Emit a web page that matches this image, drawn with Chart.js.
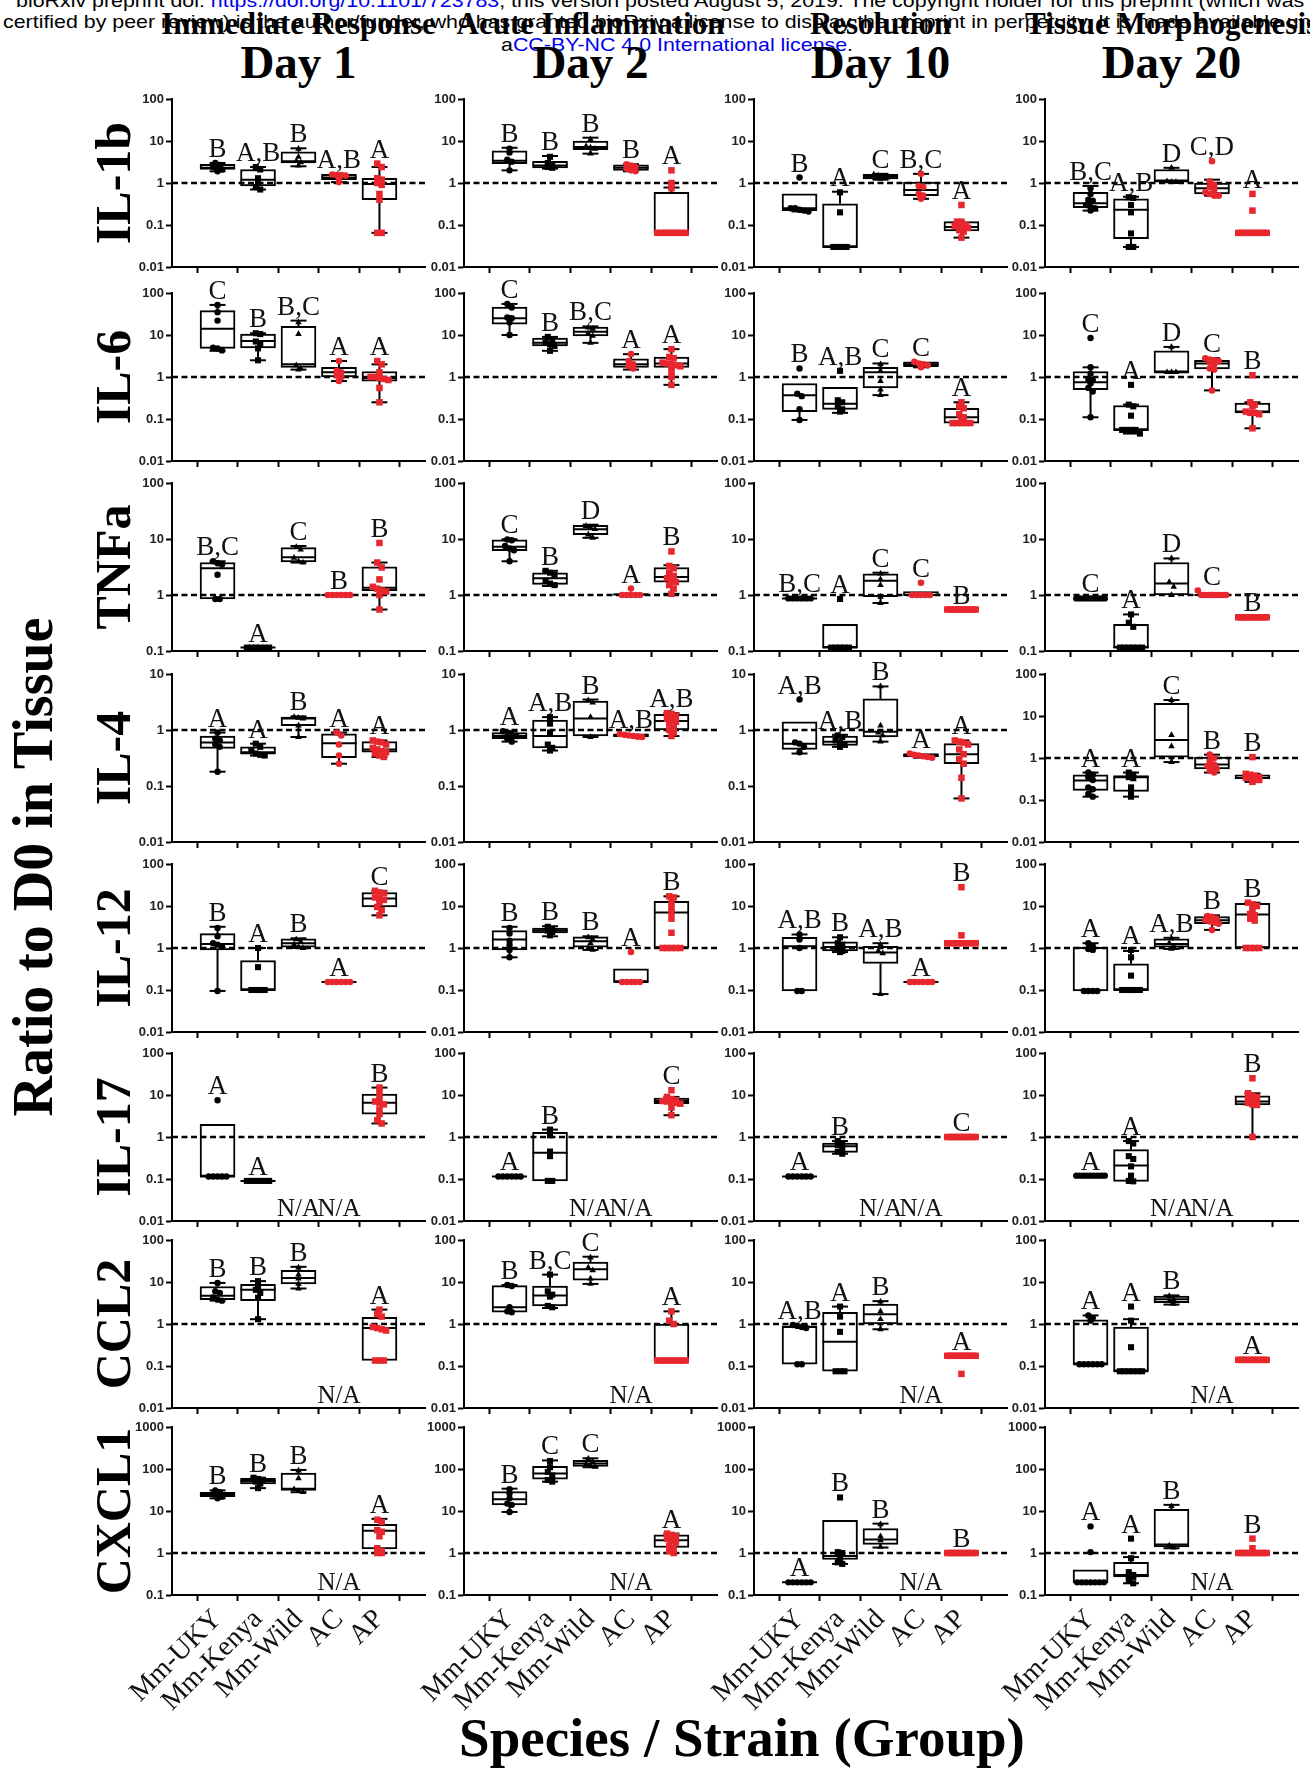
<!DOCTYPE html>
<html>
<head>
<meta charset="utf-8">
<script src="https://cdn.jsdelivr.net/npm/chart.js@4.4.1/dist/chart.umd.min.js"></script>
<style>
  body { margin: 0; background: #fff; }
  #page { position: relative; width: 1310px; height: 1768px; overflow: hidden; background: #fff; }
  #page canvas { position: absolute; }
  .t { position: absolute; white-space: nowrap; line-height: 1; color: #000; }
  .serif { font-family: "Liberation Serif", "Times New Roman", serif; font-weight: bold; }
  .hdr { font-family: "Liberation Sans", Arial, sans-serif; font-size: 19px; transform-origin: 0 0; }
  .lnk { color: #0000ee; }
  .rot { transform: translate(-50%, -50%) rotate(-90deg); }
</style>
</head>
<body>
<div id="page">
  <div class="t hdr" id="h1" style="left:16px;top:-9px">bioRxiv preprint doi: <span class="lnk">https://doi.org/10.1101/723783</span>; this version posted August 5, 2019. The copyright holder for this preprint (which was</div>
  <div class="t hdr" id="h2" style="left:3px;top:12px">certified by peer review) is the author/funder, who has granted bioRxiv a license to display the preprint in perpetuity. It is made available under</div>
  <div class="t hdr" id="h3" style="top:35px">a<span class="lnk">CC-BY-NC 4.0 International license</span>.</div>
</div>
<script>
// categories and labels
const groupNames = ['Mm-UKY', 'Mm-Kenya', 'Mm-Wild', 'AC', 'AP'];
const phases = ['Immediate Response', 'Acute Inflammation', 'Resolution', 'Tissue Morphogenesis'];
const days = ['Day 1', 'Day 2', 'Day 10', 'Day 20'];
const cytokines = ['IL-1b', 'IL-6', 'TNFa', 'IL-4', 'IL-12', 'IL-17', 'CCL2', 'CXCL1'];

// y axis range per row / column
const axisMin = [[0.01,0.01,0.01,0.01],[0.01,0.01,0.01,0.01],[0.1,0.1,0.1,0.1],[0.01,0.01,0.01,0.01],
                 [0.01,0.01,0.01,0.01],[0.01,0.01,0.01,0.01],[0.01,0.01,0.01,0.01],[0.1,0.1,0.1,0.1]];
const axisMax = [[100,100,100,100],[100,100,100,100],[100,100,100,100],[10,10,10,100],
                 [100,100,100,100],[100,100,100,100],[100,100,100,100],[1000,1000,1000,1000]];

// each group: [whisker low, q1, median, q3, whisker high, letter, points]  (null = N/A)
const il1b = [
  [[1.9,2.1,2.3,2.8,3.0,'B',[3.0,2.7,2.4,2.2,2.1,1.9]],
   [0.7,0.85,1.2,2.1,2.4,'A,B',[2.4,2.1,1.3,1.0,0.8,0.7]],
   [2.5,3.0,3.3,5.5,6.7,'B',[6.5,4.2,3.3,3.1,2.6]],
   [1.05,1.2,1.35,1.6,1.6,'A,B',[1.6,1.55,1.5,1.3,1.05,1.55]],
   [0.065,0.4,0.95,1.3,2.4,'A',[2.9,2.4,1.3,1.2,1.0,0.9,0.55,0.4,0.065,0.065]]],
  [[2.0,2.9,3.4,5.8,6.9,'B',[6.6,5.3,3.6,3.2,2.0]],
   [2.2,2.3,2.6,3.3,4.4,'B',[4.2,3.0,2.6,2.4,2.3]],
   [5.0,6.2,7.2,10,12,'B',[11,7.5,7.0,6.5,5.0]],
   [1.9,2.0,2.3,2.7,2.8,'B',[2.8,2.6,2.4,2.2,2.0,1.9]],
   [0.065,0.065,0.065,0.6,0.78,'A',[2.0,1.0,0.75,0.065,0.065,0.065,0.065,0.065,0.065,0.065,0.065]]],
  [[0.21,0.22,0.25,0.55,0.55,'B',[1.35,0.25,0.25,0.23,0.22,0.21]],
   [0.03,0.03,0.03,0.32,0.62,'A',[0.6,0.2,0.03,0.03,0.03,0.03]],
   [1.2,1.25,1.4,1.6,1.65,'C',[1.6,1.5,1.4,1.35,1.25]],
   [0.42,0.5,0.68,1.05,1.65,'B,C',[1.65,0.85,0.8,0.55,0.5,0.42]],
   [0.05,0.072,0.09,0.12,0.12,'A',[0.3,0.12,0.12,0.1,0.095,0.09,0.09,0.085,0.075,0.07,0.05]]],
  [[0.22,0.26,0.33,0.6,0.85,'B,C',[0.75,0.55,0.4,0.38,0.3,0.27,0.25,0.22]],
   [0.03,0.047,0.23,0.42,0.47,'A,B',[0.46,0.44,0.3,0.2,0.063,0.03,0.03]],
   [1.05,1.05,1.15,2.1,2.3,'D',[2.3,1.1,1.05,1.05]],
   [0.5,0.55,0.75,1.0,1.2,'C,D',[3.3,1.1,0.9,0.8,0.7,0.6,0.55,0.5,0.5]],
   [0.065,0.065,0.065,0.065,0.065,'A',[0.55,0.22,0.065,0.065,0.065,0.065,0.065,0.065,0.065,0.065,0.065]]]
];
const il6 = [
  [[4.2,4.8,14,38,52,'C',[52,35,22,5,4.8,4.3]],
   [2.5,4.9,7.2,10.5,11,'B',[11,10.5,7,6,4.8,2.5]],
   [1.5,1.7,2.0,16,22,'B,C',[20,10.5,1.9,1.6,1.5]],
   [0.8,1.0,1.3,1.7,2.4,'A',[2.4,1.4,1.3,1.1,1.0,0.8]],
   [0.25,0.8,0.95,1.35,2.0,'A',[2.4,2.0,1.3,1.0,1.0,0.95,0.9,0.85,0.55,0.25]]],
  [[10,18,25,46,55,'C',[55,45,26,25,20,10]],
   [4.2,5.5,6.5,8.5,9,'B',[9,8,6.5,6,5.5,4.2]],
   [6.5,9.5,12,15.5,16,'B,C',[15,14,11,9.5,6.5]],
   [1.5,1.7,2.0,2.7,3.5,'A',[3.5,2.4,2.0,1.8,1.6]],
   [0.65,1.7,2.1,3.0,4.6,'A',[4.6,3.0,2.8,2.2,2.1,2.0,1.9,1.8,1.7,1.3,1.0,0.65]]],
  [[0.095,0.15,0.37,0.7,0.7,'B',[1.6,0.4,0.35,0.17,0.095]],
   [0.14,0.17,0.23,0.57,0.57,'A,B',[1.4,0.28,0.25,0.2,0.17,0.15]],
   [0.37,0.55,1.3,1.7,2.1,'C',[2.0,1.4,0.8,0.5,0.37]],
   [1.7,1.75,2.0,2.3,2.3,'C',[2.3,2.1,2.0,1.9,1.7]],
   [0.08,0.08,0.11,0.18,0.25,'A',[0.25,0.2,0.18,0.13,0.11,0.1,0.08,0.08,0.08,0.08,0.08]]],
  [[0.11,0.5,0.75,1.35,1.7,'C',[8.5,1.7,1.2,0.9,0.85,0.7,0.55,0.45,0.11]],
   [0.045,0.055,0.055,0.21,0.22,'A',[0.65,0.22,0.2,0.12,0.055,0.055,0.055,0.055,0.045]],
   [1.3,1.3,1.3,4.2,5.2,'D',[5.2,1.3,1.3,1.3]],
   [0.48,1.55,2.1,2.5,2.8,'C',[2.8,2.6,2.5,2.4,2.2,2.0,1.6,1.5,0.48]],
   [0.06,0.14,0.15,0.24,0.25,'B',[1.1,0.25,0.22,0.2,0.15,0.14,0.14,0.13,0.06]]]
];
const tnfa = [
  [[0.85,0.85,3.0,3.8,4.0,'B,C',[4.0,3.7,3.5,2.3,0.85,0.85]],
   [0.115,0.115,0.115,0.115,0.115,'A',[0.115,0.115,0.115,0.115,0.115,0.115]],
   [3.8,3.9,4.7,7.0,7.5,'C',[7.2,6.5,4.6,4.0,3.8]],
   [1,1,1,1,1,'B',[1,1,1,1,1,1]],
   [0.55,1.2,1.35,3.2,3.8,'B',[8.5,3.8,3.1,1.9,1.4,1.3,1.2,1.15,1.0,0.55]]],
  [[4.0,6.2,7.3,9.7,9.9,'C',[9.8,9.5,7.5,6.8,6.3,4.0]],
   [1.45,1.55,2.0,2.5,2.7,'B',[2.7,2.5,2.3,1.8,1.6,1.5]],
   [10.5,12,15,17.5,18,'D',[17,16,15,12,10.5]],
   [1,1,1.02,1.05,1.05,'A',[1.3,1,1,1,1,1]],
   [1.05,1.7,2.1,3.1,3.4,'B',[6,3.3,3.0,2.5,2.2,2.0,1.9,1.7,1.5,1.3,1.05]]],
  [[0.87,0.87,0.87,0.87,0.87,'B,C',[0.87,0.87,0.87,0.87,0.87,0.87]],
   [0.115,0.115,0.115,0.3,0.3,'A',[0.85,0.115,0.115,0.115,0.115,0.115]],
   [0.72,0.93,1.8,2.4,2.5,'C',[2.4,1.9,1.5,0.93,0.72]],
   [1,1,1,1.15,1.15,'C',[1.65,1,1,1,1,1]],
   [0.55,0.55,0.55,0.55,0.55,'B',[0.55,0.55,0.55,0.55,0.55,0.55,0.55,0.55,0.55,0.55,0.55]]],
  [[0.87,0.87,0.87,0.87,0.87,'C',[0.87,0.87,0.87,0.87,0.87,0.87,0.87,0.87,0.87]],
   [0.115,0.115,0.115,0.3,0.45,'A',[0.45,0.32,0.27,0.115,0.115,0.115,0.115,0.115,0.115]],
   [1.0,1.0,1.6,3.8,4.5,'D',[4.5,1.7,1.4,1.0]],
   [1,1,1,1,1,'C',[1.2,1,1,1,1,1,1,1,1]],
   [0.4,0.4,0.4,0.4,0.4,'B',[0.4,0.4,0.4,0.4,0.4,0.4,0.4,0.4,0.4,0.4,0.4]]]
];
const il4 = [
  [[0.18,0.47,0.6,0.78,0.9,'A',[0.9,0.7,0.65,0.55,0.5,0.18]],
   [0.35,0.37,0.4,0.5,0.57,'A',[0.57,0.5,0.42,0.38,0.36,0.35]],
   [0.75,1.2,1.6,1.7,1.75,'B',[1.7,1.65,1.6,1.2,0.75]],
   [0.25,0.32,0.58,0.85,0.9,'A',[0.9,0.8,0.55,0.35,0.25]],
   [0.33,0.4,0.45,0.62,0.65,'A',[0.65,0.62,0.6,0.55,0.48,0.45,0.42,0.4,0.38,0.35,0.33]]],
  [[0.62,0.7,0.78,0.9,0.95,'A',[0.95,0.9,0.82,0.78,0.7,0.62]],
   [0.43,0.48,0.78,1.5,1.7,'A,B',[1.7,1.3,0.9,0.55,0.48,0.43]],
   [0.75,0.78,1.6,3.3,3.5,'B',[3.4,3.1,1.7,0.75]],
   [0.75,0.75,0.8,0.85,0.85,'A,B',[0.85,0.82,0.8,0.78,0.76,0.75]],
   [0.78,1.0,1.45,1.9,2.0,'A,B',[2.0,1.95,1.8,1.6,1.5,1.4,1.3,1.1,1.0,0.9,0.78]]],
  [[0.38,0.45,0.57,1.4,1.4,'A,B',[3.5,0.6,0.57,0.5,0.4]],
   [0.5,0.53,0.62,0.78,0.82,'A,B',[0.8,0.75,0.65,0.6,0.55,0.5]],
   [0.62,0.75,0.93,3.6,6.0,'B',[6.0,1.2,0.9,0.8,0.62]],
   [0.32,0.33,0.35,0.38,0.38,'A',[0.38,0.36,0.35,0.34,0.33,0.32]],
   [0.06,0.25,0.37,0.57,0.65,'A',[0.65,0.62,0.6,0.55,0.45,0.37,0.3,0.25,0.14,0.06]]],
  [[0.12,0.17,0.29,0.4,0.45,'A',[0.45,0.4,0.35,0.3,0.2,0.18,0.14,0.12]],
   [0.12,0.16,0.35,0.38,0.45,'A',[0.45,0.4,0.35,0.33,0.2,0.15,0.12]],
   [0.8,1.05,2.7,20,24,'C',[24,3.5,1.9,0.8]],
   [0.45,0.55,0.7,1.05,1.2,'B',[1.2,1.0,0.85,0.7,0.65,0.6,0.55,0.5,0.45]],
   [0.27,0.32,0.34,0.4,0.42,'B',[1.05,0.42,0.4,0.38,0.35,0.34,0.33,0.32,0.3,0.27]]]
];
const il12 = [
  [[0.095,0.9,1.25,2.2,3.2,'B',[3.0,1.9,1.3,1.2,1.1,0.095]],
   [0.1,0.1,0.1,0.5,1.0,'A',[1.0,0.35,0.1,0.1,0.1,0.1]],
   [1.0,1.05,1.3,1.65,1.7,'B',[1.6,1.4,1.2,1.05,1.0]],
   [0.155,0.155,0.155,0.155,0.155,'A',[0.155,0.155,0.155,0.155,0.155,0.155]],
   [6,9.5,15,21,23,'C',[23,21,20,16,15,14,12,9.5,8,6]]],
  [[0.6,0.9,1.6,2.6,3.2,'B',[3.0,2.2,1.5,1.2,0.9,0.6]],
   [1.9,2.3,2.6,3.0,3.3,'B',[3.2,2.8,2.6,2.4,2.0]],
   [0.9,1.05,1.45,1.85,1.9,'B',[1.8,1.6,1.3,1.0,0.9]],
   [0.155,0.155,0.155,0.32,0.32,'A',[0.8,0.155,0.155,0.155,0.155,0.155]],
   [1.0,1.0,7,13,17,'B',[17,16,12,9,7,5,2.3,1,1,1,1,1]]],
  [[0.095,0.095,1.1,1.8,2.1,'A,B',[2.1,1.6,1.0,0.095,0.095]],
   [0.8,0.85,1.05,1.4,1.8,'B',[1.8,1.3,1.2,1.0,0.85,0.8]],
   [0.08,0.43,0.78,1.1,1.3,'A,B',[1.2,0.85,0.75,0.08]],
   [0.155,0.155,0.155,0.155,0.155,'A',[0.155,0.155,0.155,0.155,0.155,0.155]],
   [1.3,1.3,1.3,1.3,1.3,'B',[28,2.0,1.3,1.3,1.3,1.3,1.3,1.3,1.3,1.3,1.3]]],
  [[0.095,0.095,1.0,1.05,1.3,'A',[1.3,1.1,0.95,0.9,0.095,0.095,0.095,0.095]],
   [0.1,0.1,0.1,0.42,0.85,'A',[0.9,0.6,0.22,0.1,0.1,0.1,0.1,0.1]],
   [0.95,1.05,1.25,1.65,1.75,'A,B',[1.7,1.3,1.1,0.95]],
   [2.7,3.8,4.6,5.6,6,'B',[5.8,5.5,5.0,4.6,4.3,4.0,3.8,2.7]],
   [1.0,1.0,6.3,11.5,12,'B',[12,11,10,8,6.5,6,5,4.5,1,1,1,1]]]
];
const il17 = [
  [[0.115,0.115,0.115,2.0,2.0,'A',[7.5,0.115,0.115,0.115,0.115,0.115]],
   [0.09,0.09,0.09,0.09,0.09,'A',[0.09,0.09,0.09,0.09,0.09,0.09]],
   null, null,
   [2.1,3.5,6.5,10.5,15,'B',[15,12,9,7,6.5,6,4.5,3.5,2.5,2.1]]],
  [[0.115,0.115,0.115,0.115,0.115,'A',[0.115,0.115,0.115,0.115,0.115,0.115]],
   [0.09,0.09,0.42,1.3,1.5,'B',[1.5,1.1,0.45,0.35,0.09,0.09]],
   null, null,
   [3.3,6.2,7.2,8.5,9,'C',[13,9,8,7.5,7.2,7,6.8,6.5,6.2,5,3.3]]],
  [[0.115,0.115,0.115,0.115,0.115,'A',[0.115,0.115,0.115,0.115,0.115,0.115]],
   [0.4,0.43,0.6,0.72,0.8,'B',[0.8,0.7,0.65,0.55,0.45,0.4]],
   null, null,
   [1,1,1,1,1,'C',[1,1,1,1,1,1,1,1,1,1]]],
  [[0.12,0.12,0.12,0.12,0.12,'A',[0.12,0.12,0.12,0.12,0.12,0.12,0.12,0.12,0.12]],
   [0.088,0.088,0.21,0.5,0.8,'A',[0.8,0.7,0.35,0.3,0.2,0.12,0.09,0.088]],
   null, null,
   [1.0,5.8,7,9.5,11,'B',[25,11,9.5,9,8,7.5,7,6.5,6,5.8,1.0]]]
];
const ccl2 = [
  [[3.6,3.8,4.7,7.8,9.5,'B',[9.5,6,5.5,4.3,3.8,3.6]],
   [1.3,3.6,6.5,8.8,10.5,'B',[10.5,8,6.5,5.5,4.2,1.3]],
   [7,9,12.5,19,23,'B',[22,15,12,9,7]],
   null,
   [0.135,0.135,0.8,1.45,2.2,'A',[2.2,1.7,1.5,0.85,0.8,0.75,0.7,0.135,0.135,0.135]]],
  [[1.9,1.9,2.5,8.2,8.5,'B',[8.5,8.0,2.5,2.0,1.9]],
   [2.4,2.7,4.8,8.0,15,'B,C',[15,6,5,4.5,2.7,2.5]],
   [9,11,20,30,40,'C',[38,22,19,12,9]],
   null,
   [0.135,0.135,0.135,1.0,2.0,'A',[2.0,1.2,1.0,0.135,0.135,0.135,0.135,0.135,0.135,0.135,0.135,0.135]]],
  [[0.11,0.11,0.85,0.9,0.95,'A,B',[0.95,0.9,0.85,0.8,0.11,0.11]],
   [0.075,0.075,0.38,1.9,2.6,'A',[2.6,1.5,0.65,0.075,0.075,0.075]],
   [0.75,1.0,1.7,3.0,3.5,'B',[3.4,2.0,1.3,0.75]],
   null,
   [0.175,0.175,0.175,0.175,0.175,'A',[0.175,0.175,0.175,0.175,0.175,0.175,0.175,0.175,0.175,0.175,0.065]]],
  [[0.11,0.11,0.11,1.25,1.6,'A',[1.6,1.4,1.2,0.11,0.11,0.11,0.11,0.11,0.11]],
   [0.075,0.075,0.075,0.85,1.3,'A',[2.6,1.2,0.28,0.075,0.075,0.075,0.075,0.075,0.075]],
   [2.9,3.2,3.9,4.6,4.8,'B',[4.6,3.8,3.5,3.0]],
   null,
   [0.14,0.14,0.14,0.14,0.14,'A',[0.14,0.14,0.14,0.14,0.14,0.14,0.14,0.14,0.14,0.14,0.14]]]
];
const cxcl1 = [
  [[20,22,24,28,31,'B',[31,28,25,24,22,20]],
   [35,44,52,60,62,'B',[62,58,55,50,45,35]],
   [28,31,34,80,95,'B',[92,60,33,30,28]],
   null,
   [1.0,1.25,3.4,4.8,6.5,'A',[6.2,5.5,3.5,3.2,2.5,1.3,1.1,1.0,1.0]]],
  [[9.5,14,19,29,34,'B',[33,26,20,15,14,9.5]],
   [50,57,78,115,160,'C',[155,110,85,70,55,50]],
   [110,115,135,160,180,'C',[175,150,130,120,112]],
   null,
   [1.0,1.35,2.0,2.7,2.9,'A',[2.9,2.7,2.5,2.2,2.0,1.8,1.5,1.3,1.1,1.0]]],
  [[0.2,0.2,0.2,0.2,0.2,'A',[0.2,0.2,0.2,0.2,0.2,0.2]],
   [0.55,0.7,0.85,6,6,'B',[21,1.05,1.0,0.75,0.6,0.55]],
   [1.35,1.6,2.1,3.8,5,'B',[4.8,2.5,2.0,1.4]],
   null,
   [1,1,1,1,1,'B',[1,1,1,1,1,1,1,1,1,1]]],
  [[0.2,0.2,0.2,0.4,0.4,'A',[4.3,1.05,0.2,0.2,0.2,0.2,0.2,0.2,0.2]],
   [0.19,0.27,0.3,0.6,0.8,'A',[2.2,0.75,0.35,0.3,0.28,0.27,0.22,0.19]],
   [1.3,1.4,1.6,11,14,'B',[13,1.5,1.35]],
   null,
   [1,1,1,1,1,'B',[2.2,1.3,1,1,1,1,1,1,1,1,1]]]
];
const rowsData = [il1b, il6, tnfa, il4, il12, il17, ccl2, cxcl1];

// layout
const colX = [172, 464, 754, 1045];          // y-axis line of each column
const rowY = [99, 293, 483, 674, 864, 1053, 1240, 1427]; // top of each plot
const PLOT_W = 253, PLOT_H = 168;
const AX_W = 42, PAD_L = 40, PAD_R = 14, PAD_T = 46, PAD_B = 2;
const RED = '#e8262d';
const SERIF = '"Liberation Serif", "Times New Roman", serif';
const SANS = '"Liberation Sans", Arial, sans-serif';
const markStyle = ['circle', 'rect', 'triangle', 'circle', 'rect'];
const markColor = ['#000', '#000', '#000', RED, RED];
const markRadius = [3.2, 4.3, 3.8, 3.3, 4.6];

const page = document.getElementById('page');

// spread points that sit at (almost) the same height side by side
function spread(vals, gi) {
  const bins = [];
  vals.slice().sort((a, b) => b - a).forEach(v => {
    const lv = Math.log10(v);
    const b = bins.find(b => Math.abs(b.lv - lv) < 0.09);
    if (b) b.vals.push(v); else bins.push({ lv, vals: [v] });
  });
  const out = [];
  bins.forEach(b => {
    const n = b.vals.length;
    const step = n > 1 ? Math.min(0.11, 0.7 / (n - 1)) : 0;
    b.vals.forEach((v, k) => out.push({ x: gi + (k - (n - 1) / 2) * step, y: v }));
  });
  return out;
}

function decades(min, max) {
  const t = [];
  for (let e = Math.round(Math.log10(min)); e <= Math.round(Math.log10(max)); e++) t.push(Math.pow(10, e));
  return t;
}

function makePanel(r, c) {
  const groups = rowsData[r][c];
  const bottom = r === cytokines.length - 1;
  const hx = bottom ? 140 : 8;
  const W = PAD_L + AX_W + PLOT_W + PAD_R;
  const H = PAD_T + PLOT_H + hx + PAD_B;
  const cv = document.createElement('canvas');
  cv.width = W; cv.height = H;
  cv.style.left = (colX[c] - PAD_L - AX_W) + 'px';
  cv.style.top = (rowY[r] - PAD_T) + 'px';
  page.appendChild(cv);

  const boxes = {
    id: 'boxes' + r + c,
    afterDatasetDraw(chart, args) {
      if (args.index !== 0) return;
      const { ctx, chartArea, scales: { x, y } } = chart;
      ctx.save();
      // reference line at ratio 1
      ctx.strokeStyle = '#000';
      ctx.lineWidth = 2.5;
      ctx.setLineDash([6, 3.5]);
      const y1 = y.getPixelForValue(1);
      ctx.beginPath(); ctx.moveTo(chartArea.left, y1); ctx.lineTo(chartArea.right + 2, y1); ctx.stroke();
      ctx.setLineDash([]);
      ctx.lineWidth = 2;
      groups.forEach((g, i) => {
        if (!g) return;
        const cx = x.getPixelForValue(i);
        const [lo, q1, med, q3, hi] = g;
        const line = (xa, ya, xb, yb) => { ctx.beginPath(); ctx.moveTo(xa, ya); ctx.lineTo(xb, yb); ctx.stroke(); };
        if (hi > q3) {
          line(cx, y.getPixelForValue(q3), cx, y.getPixelForValue(hi));
          line(cx - 8, y.getPixelForValue(hi), cx + 8, y.getPixelForValue(hi));
        }
        if (lo < q1) {
          line(cx, y.getPixelForValue(q1), cx, y.getPixelForValue(lo));
          line(cx - 8, y.getPixelForValue(lo), cx + 8, y.getPixelForValue(lo));
        }
        line(cx - 17.5, y.getPixelForValue(med), cx + 17.5, y.getPixelForValue(med));
      });
      ctx.restore();
    },
    afterDraw(chart) {
      const { ctx, chartArea, scales: { x, y } } = chart;
      ctx.save();
      ctx.fillStyle = '#111';
      ctx.textAlign = 'center';
      groups.forEach((g, i) => {
        const cx = x.getPixelForValue(i);
        if (!g) {
          ctx.font = '25px ' + SERIF;
          ctx.fillText('N/A', cx, chartArea.bottom - 5);
          return;
        }
        ctx.font = '27px ' + SERIF;
        const top = Math.max(g[3], g[4], ...g[6]);
        ctx.fillText(g[5], cx, y.getPixelForValue(top) - 6);
      });
      ctx.restore();
    }
  };

  const datasets = [{
    type: 'bar',
    data: groups.map((g, i) => g ? { x: i, y: [g[1], g[3]] } : null).filter(Boolean),
    backgroundColor: '#fff',
    borderColor: '#000',
    borderWidth: 2,
    borderSkipped: false,
    barThickness: 35,
    order: 10
  }];
  groups.forEach((g, i) => {
    if (!g) return;
    datasets.push({
      type: 'scatter',
      data: spread(g[6], i),
      pointStyle: markStyle[i],
      pointRadius: markRadius[i],
      pointBackgroundColor: markColor[i],
      pointBorderColor: markColor[i],
      pointBorderWidth: 0,
      clip: false,
      order: 0
    });
  });

  const yTicks = decades(axisMin[r][c], axisMax[r][c]);
  new Chart(cv, {
    data: { datasets },
    plugins: [boxes],
    options: {
      responsive: false,
      animation: false,
      events: [],
      layout: { padding: { left: PAD_L, right: PAD_R, top: PAD_T, bottom: PAD_B } },
      plugins: { legend: { display: false }, tooltip: { enabled: false } },
      scales: {
        x: {
          type: 'linear', min: -0.5, max: 4.5,
          afterBuildTicks: s => { s.ticks = [0, 1, 2, 3, 4].map(v => ({ value: v })); },
          afterFit: s => { s.height = hx; s.paddingLeft = 0; s.paddingRight = 0; },
          grid: { drawOnChartArea: false, drawTicks: true, tickLength: 6, tickWidth: 2, tickColor: '#000' },
          border: { display: true, color: '#000', width: 2 },
          ticks: {
            display: bottom, autoSkip: false, maxRotation: 45, minRotation: 45, padding: 2,
            font: { family: SERIF, size: 28 }, color: '#111',
            callback: v => groupNames[v]
          }
        },
        y: {
          type: 'logarithmic', min: axisMin[r][c], max: axisMax[r][c],
          afterBuildTicks: s => { s.ticks = yTicks.map(v => ({ value: v })); },
          afterFit: s => { s.width = AX_W; s.paddingTop = 0; s.paddingBottom = 0; },
          grid: { drawOnChartArea: false, drawTicks: true, tickLength: 6, tickWidth: 2, tickColor: '#000' },
          border: { display: true, color: '#000', width: 2 },
          ticks: {
            font: { family: SANS, size: 13, weight: 'bold' }, color: '#222', padding: 2,
            callback: v => String(v)
          }
        }
      }
    }
  });
}

function addText(txt, cls, style) {
  const d = document.createElement('div');
  d.className = 't ' + cls;
  d.textContent = txt;
  Object.assign(d.style, style);
  page.appendChild(d);
  return d;
}

// header of the preprint page: fit line 1 to its width, same squeeze for the others
const h1 = document.getElementById('h1'), h2 = document.getElementById('h2'), h3 = document.getElementById('h3');
const sx = 1288 / h1.scrollWidth;
[h1, h2, h3].forEach(h => h.style.transform = `scaleX(${sx})`);
h3.style.left = (677 - h3.scrollWidth * sx / 2) + 'px';

// column titles
colX.forEach((x0, c) => {
  const cx = x0 + PLOT_W / 2;
  addText(phases[c], 'serif', { fontSize: '31px', left: cx + 'px', top: '8px', transform: 'translateX(-50%)' });
  addText(days[c], 'serif', { fontSize: '47px', left: cx + 'px', top: '39px', transform: 'translateX(-50%)' });
});

// row titles
cytokines.forEach((name, r) => {
  addText(name, 'serif rot', { fontSize: '50px', left: '113px', top: (rowY[r] + PLOT_H / 2) + 'px' });
});
addText('Ratio to D0 in Tissue', 'serif rot', { fontSize: '56px', left: '33px', top: '867px' });
addText('Species / Strain (Group)', 'serif', { fontSize: '55px', left: '742px', top: '1710px', transform: 'translateX(-50%)' });

// panels
for (let r = 0; r < cytokines.length; r++) {
  for (let c = 0; c < days.length; c++) makePanel(r, c);
}
</script>
</body>
</html>
